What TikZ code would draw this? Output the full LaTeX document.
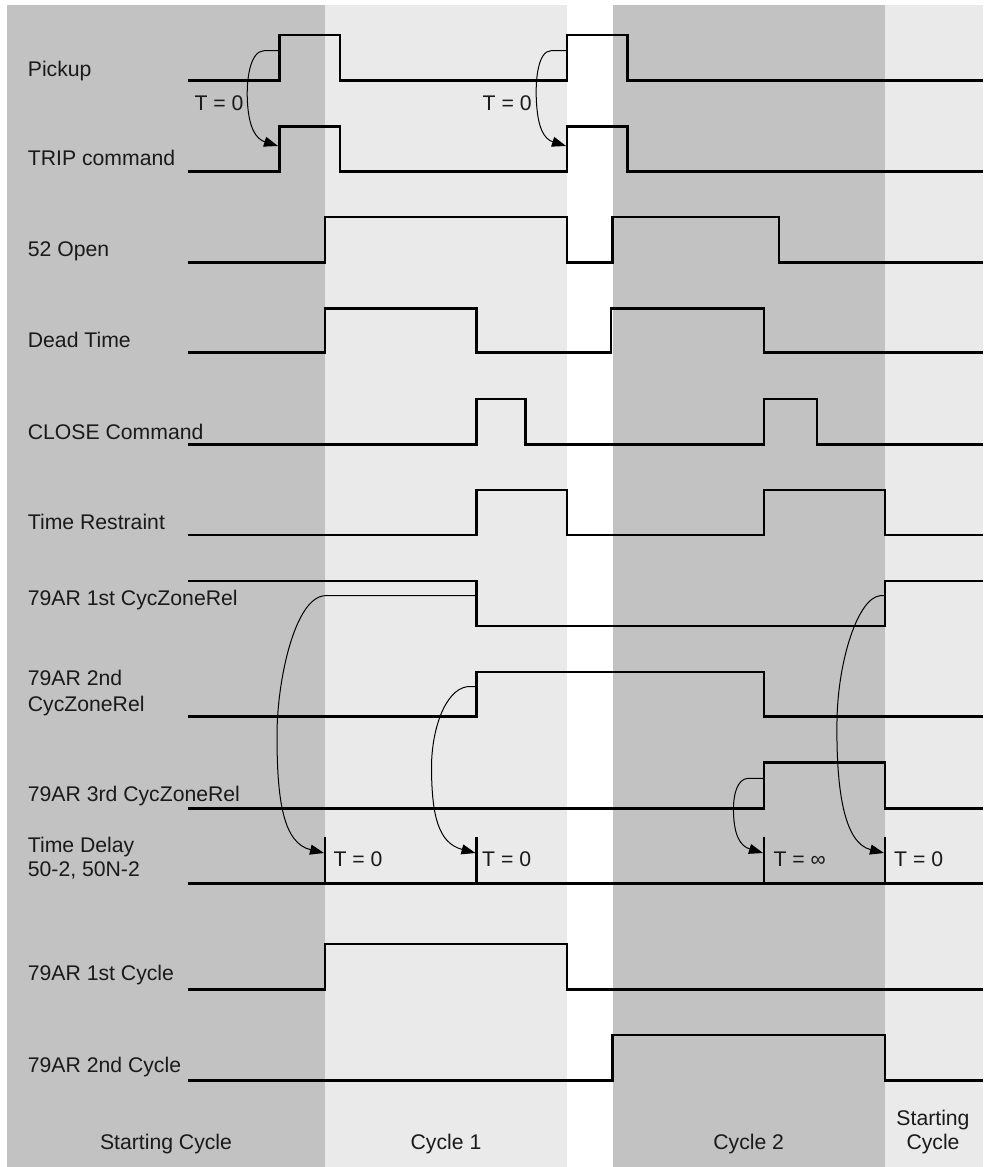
\documentclass[tikz,border=0pt]{standalone}
\usepackage{fontspec}
\setmainfont{Liberation Sans}
\usetikzlibrary{arrows.meta}
\definecolor{bandD}{RGB}{194,194,194}
\definecolor{bandL}{RGB}{234,234,234}
\definecolor{txt}{RGB}{26,26,26}
\begin{document}
\begin{tikzpicture}[x=1pt,y=-1pt,
  sig/.style={line width=2.6pt},
  tickmark/.style={line width=2.4pt},
  lbl/.style={anchor=base west, inner sep=0pt, text=txt, font=\fontsize{21.2}{25}\selectfont},
  clbl/.style={anchor=base, inner sep=0pt, text=txt, font=\fontsize{21.2}{25}\selectfont},
  conn/.style={line width=1pt,-{Triangle[length=14pt,width=10pt]}}]
\useasboundingbox (0,0) rectangle (983,1167);
\fill[white] (0,0) rectangle (983,1167);
% background bands
\fill[bandD] (7,5) rectangle (325,1167);
\fill[bandL] (325,5) rectangle (567,1167);
\fill[bandD] (612.5,5) rectangle (885,1167);
\fill[bandL] (885,5) rectangle (983,1167);
% labels
\node[lbl] (lPick) at (27.7,76) {Pickup};
\node[lbl] (lTrip) at (27.7,165.7) {TRIP command};
\node[lbl] (lOpen) at (27.7,256.7) {52 Open};
\node[lbl] (lDead) at (27.7,347.5) {Dead Time};
\node[lbl] (lClose) at (27.7,439) {CLOSE Command};
\node[lbl] (lRestr) at (27.7,529.5) {Time Restraint};
\node[lbl] (lZ1) at (27.7,605) {79AR 1st CycZoneRel};
\node[lbl] (lZ2a) at (27.7,685) {79AR 2nd};
\node[lbl] (lZ2b) at (27.7,711.7) {CycZoneRel};
\node[lbl] (lZ3) at (27.7,801) {79AR 3rd CycZoneRel};
\node[lbl] (lTDa) at (27.7,852.3) {Time Delay};
\node[lbl] (lTDb) at (27.7,876.7) {50-2, 50N-2};
\node[lbl] (lC1) at (27.7,980.7) {79AR 1st Cycle};
\node[lbl] (lC2) at (27.7,1072) {79AR 2nd Cycle};
% bottom labels
\node[clbl] (bStart) at (166,1149.3) {Starting Cycle};
\node[clbl] (bCyc1) at (446,1149.3) {Cycle 1};
\node[clbl] (bCyc2) at (748.7,1149.3) {Cycle 2};
\node[clbl] (bStart2a) at (933,1125) {Starting};
\node[clbl] (bStart2b) at (933,1149.3) {Cycle};
% T labels
\node[lbl] (t1) at (194.3,110) {T = 0};
\node[lbl] (t2) at (482.5,110) {T = 0};
\node[lbl] (t3) at (333.3,866.7) {T = 0};
\node[lbl] (t4) at (482,866.7) {T = 0};
\node[lbl] (t5) at (773.3,866.7) {T = ∞};
\node[lbl] (t6) at (894,866.7) {T = 0};
% signals
\draw[sig] (187.5,80.7) -- (279.3,80.7) -- (279.3,35) -- (340,35) -- (340,80.7) -- (567,80.7) -- (567,35) -- (627.5,35) -- (627.5,80.7) -- (983,80.7);
\draw[sig] (187.5,171.7) -- (279.3,171.7) -- (279.3,126.7) -- (340,126.7) -- (340,171.7) -- (567,171.7) -- (567,126.7) -- (627.5,126.7) -- (627.5,171.7) -- (983,171.7);
\draw[sig] (187.5,262.3) -- (325,262.3) -- (325,217) -- (567,217) -- (567,262.3) -- (612.5,262.3) -- (612.5,217) -- (779,217) -- (779,262.3) -- (983,262.3);
\draw[sig] (187.5,352.7) -- (325,352.7) -- (325,308.3) -- (476.5,308.3) -- (476.5,352.7) -- (611,352.7) -- (611,308.3) -- (764,308.3) -- (764,352.7) -- (983,352.7);
\draw[sig] (187.5,444.3) -- (476.5,444.3) -- (476.5,399) -- (525.6,399) -- (525.6,444.3) -- (764,444.3) -- (764,399) -- (817,399) -- (817,444.3) -- (983,444.3);
\draw[sig] (187.5,535) -- (476.5,535) -- (476.5,490) -- (567,490) -- (567,535) -- (764,535) -- (764,490) -- (885,490) -- (885,535) -- (983,535);
\draw[sig] (187.5,581) -- (476.5,581) -- (476.5,626) -- (885,626) -- (885,581) -- (983,581);
\draw[sig] (187.5,716.7) -- (476.5,716.7) -- (476.5,672) -- (764,672) -- (764,716.7) -- (983,716.7);
\draw[sig] (187.5,808.3) -- (764,808.3) -- (764,762.5) -- (885,762.5) -- (885,808.3) -- (983,808.3);
\draw[sig] (187.5,883.3) -- (983,883.3);
\draw[tickmark] (325,836.7) -- (325,883.3);
\draw[tickmark] (476.5,836.7) -- (476.5,883.3);
\draw[tickmark] (764,836.7) -- (764,883.3);
\draw[tickmark] (885,836.7) -- (885,883.3);
\draw[sig] (187.5,989.3) -- (325,989.3) -- (325,944) -- (567,944) -- (567,989.3) -- (983,989.3);
\draw[sig] (187.5,1080.7) -- (612.5,1080.7) -- (612.5,1035) -- (885,1035) -- (885,1080.7) -- (983,1080.7);
% connector endpoints
\coordinate (a1s) at (279.3,50.7);
\coordinate (a1e) at (278,146);
\coordinate (a2s) at (567,50.7);
\coordinate (a2e) at (566,146);
\coordinate (a3s) at (476.5,595.7);
\coordinate (a3e) at (324,853);
\coordinate (a4s) at (476.5,686.7);
\coordinate (a4e) at (475.5,853);
\coordinate (a5s) at (764,778.3);
\coordinate (a5e) at (763,853);
\coordinate (a6s) at (885,595.7);
\coordinate (a6e) at (884,853);
% connectors
\draw[conn] (a1s) -- (264,50.7) .. controls (250,51) and (246,80) .. (247.5,103) .. controls (249,128) and (256,139) .. (a1e);
\draw[conn] (a2s) -- (551,50.7) .. controls (538,51) and (535,80) .. (536.5,103) .. controls (538,128) and (544,139) .. (a2e);
\draw[conn] (a3s) -- (325,595.7) .. controls (295,597) and (277,680) .. (277,735) .. controls (277,800) and (283,843) .. (a3e);
\draw[conn] (a4s) -- (467,686.7) .. controls (445,690) and (431,730) .. (431.5,770) .. controls (432,815) and (438,843) .. (a4e);
\draw[conn] (a5s) -- (748,778.3) .. controls (737,779) and (733,795) .. (733.5,812) .. controls (734,835) and (740,846) .. (a5e);
\draw[conn] (a6s) -- (880,595.7) .. controls (858,598) and (838,660) .. (837,720) .. controls (836,790) and (844,843) .. (a6e);
\end{tikzpicture}
\end{document}
